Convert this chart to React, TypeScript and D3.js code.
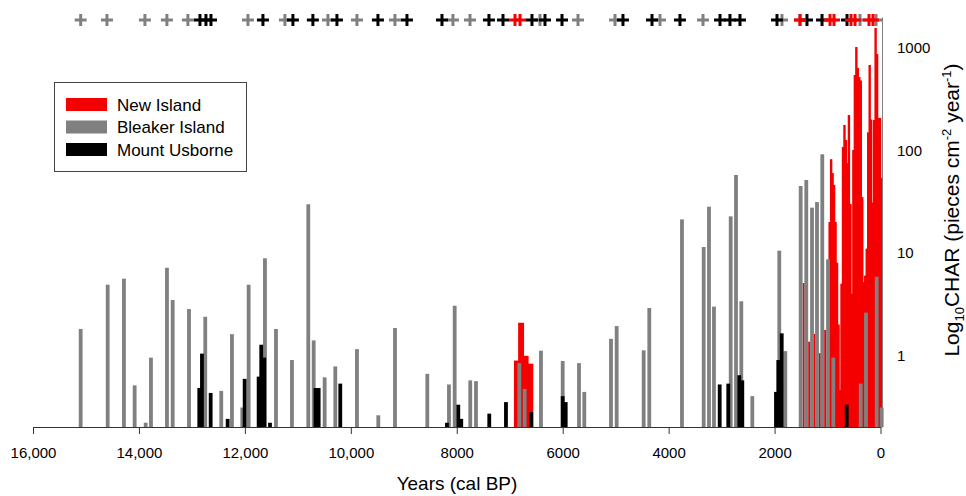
import React, { useEffect, useRef } from "react";
import * as d3 from "d3";

// Bleaker Island charcoal peaks (age cal BP, CHAR)
const bleakerAge = [
  15100, 14590, 14283, 14081, 13873, 13773, 13471, 13363, 13055, 12748, 12446,
  12244, 12049, 11929, 11621, 11413, 11111, 10803, 10701, 10494, 10293, 9884,
  9481, 9166, 8556, 8147, 8039, 7745, 7637, 6819, 6718, 6410, 6000, 5692, 5592,
  5088, 4981, 4471, 4365, 3748, 3338, 3238, 3144, 2828, 2728, 2628, 2420, 1911,
  1797, 1507, 1401, 1293, 1199, 1099, 991, 891, 374, 274, 72, -23,
];
const bleakerChar = [
  1.81, 4.89, 5.6, 0.51, 0.22, 0.95, 7.16, 3.47, 2.83, 2.38, 0.45, 1.61, 0.31,
  4.89, 8.85, 1.81, 0.9, 29.8, 1.4, 0.61, 0.78, 1.15, 0.26, 1.85, 0.66, 0.52,
  3.05, 0.57, 0.56, 0.84, 0.47, 1.11, 0.88, 0.84, 0.44, 1.45, 1.93, 1.12, 2.9,
  21.2, 11.4, 28.2, 2.99, 22.7, 57.5, 3.37, 0.4, 10.5, 1.1, 44.9, 51.4, 27.6,
  31.3, 91.5, 8.65, 0.95, 0.53, 2.61, 5.85, 0.31,
];

// Mount Usborne
const usborneAge = [
  12861, 12810, 12646, 12325, 12004, 11740, 11691, 11634, 11526, 10667, 10607,
  10199, 8185, 7971, 7915, 7386, 7071, 6593, 6000, 5943, 3036, 2874, 2666, 2609,
  1973, 1930, 1865, 638,
];
const usborneChar = [
  0.48, 1.04, 0.43, 0.24, 0.59, 0.62, 1.27, 0.95, 0.22, 0.48, 0.48, 0.53, 0.22,
  0.33, 0.24, 0.27, 0.35, 0.28, 0.4, 0.35, 0.52, 0.53, 0.64, 0.57, 0.44, 0.9,
  1.64, 0.33,
];

// New Island: sample mid age, sample span (years), CHAR
const newIslandAge = [
  6875, 6788, 6698, 6611, 1454, 1350, 1250, 1148, 1048, 963, 935, 907, 879, 851,
  823, 795, 767, 739, 711, 683, 655, 627, 599, 571, 543, 515, 487, 459, 431, 403,
  375, 347, 319, 291, 263, 235, 207, 179, 151, 123, 95, 67, 39, 11, -17,
];
const newIslandSpan = [
  79, 95, 86, 89, 20, 20, 20, 20, 20, 28, 28, 28, 28, 28, 28, 28, 28, 28, 28, 28,
  28, 28, 28, 28, 28, 28, 28, 28, 28, 28, 28, 28, 28, 28, 28, 28, 28, 28, 28, 28,
  28, 28, 28, 28, 28,
];
const newIslandChar = [
  0.89, 2.08, 0.99, 0.83, 5.08, 1.36, 1.62, 1.05, 1.77, 20, 82, 60, 46, 20, 8, 2,
  0.46, 5, 108, 177, 126, 75, 221, 30, 4, 101, 543, 1019, 635, 520, 480, 35, 5.2,
  6, 11, 150, 681, 200, 31, 198, 1563, 871, 207, 207, 54,
];

// radiocarbon dates (cal BP)
const bleakerDates = [
  15100, 14604, 13887, 13472, 13076, 11942, 11244, 10432, 9884, 9167, 8072, 7750,
  6429, 5711, 5012, 4163, 3351, 1860, 1520, 387, 85,
];
const usborneDates = [
  12848, 12735, 12640, 11659, 11093, 10716, 10262, 9488, 8940, 8279, 7392, 7127,
  6580, 6334, 6013, 4862, 4314, 3786, 3030, 2842, 2653, 1954, 1388, 1104, 632,
];
const newIslandDates = [6900, 6806, 1520, 953, 878, 557, 481, 217, 142];

const xTicks = [16000, 14000, 12000, 10000, 8000, 6000, 4000, 2000, 0];
const yTicks = [1, 10, 100, 1000];

const legendItems = [
  { label: "New Island", color: "#f50000" },
  { label: "Bleaker Island", color: "#808080" },
  { label: "Mount Usborne", color: "#000000" },
];

const FONT = "'Liberation Sans', Arial, sans-serif";

export default function App() {
  const ref = useRef<SVGSVGElement>(null);

  useEffect(() => {
    const svg = d3.select(ref.current);
    svg.selectAll("*").remove();

    const x = d3.scaleLinear().domain([16000, 0]).range([33, 880.5]);
    const y = d3.scaleLog().domain([0.2, 2000]).range([427, 17]);
    const base = y(0.2);

    // New Island (drawn first, beneath the others)
    svg
      .append("g")
      .selectAll("rect")
      .data(newIslandAge.map((a, i) => ({ a, s: newIslandSpan[i], v: newIslandChar[i] })))
      .enter()
      .append("rect")
      .attr("x", (d) => x(d.a + d.s / 2) - 0.3)
      .attr("width", (d) => Math.max(1, x(d.a - d.s / 2) - x(d.a + d.s / 2)) + 0.9)
      .attr("y", (d) => y(d.v))
      .attr("height", (d) => base - y(d.v))
      .attr("fill", "#f50000");

    // Bleaker Island
    const bw = 3.8;
    svg
      .append("g")
      .selectAll("rect")
      .data(bleakerAge.map((a, i) => ({ a, v: bleakerChar[i] })))
      .enter()
      .append("rect")
      .attr("x", (d) => x(d.a) - bw / 2)
      .attr("width", bw)
      .attr("y", (d) => y(d.v))
      .attr("height", (d) => base - y(d.v))
      .attr("fill", "#808080");

    // Mount Usborne
    svg
      .append("g")
      .selectAll("rect")
      .data(usborneAge.map((a, i) => ({ a, v: usborneChar[i] })))
      .enter()
      .append("rect")
      .attr("x", (d) => x(d.a) - bw / 2)
      .attr("width", bw)
      .attr("y", (d) => y(d.v))
      .attr("height", (d) => base - y(d.v))
      .attr("fill", "#000000");

    // date markers along the top
    const plus = "M-6,0H6M0,-6V6";
    const markers: [number[], string][] = [
      [bleakerDates, "#808080"],
      [usborneDates, "#000000"],
      [newIslandDates, "#f50000"],
    ];
    markers.forEach(([dates, color]) => {
      svg
        .append("g")
        .selectAll("path")
        .data(dates)
        .enter()
        .append("path")
        .attr("d", plus)
        .attr("transform", (d) => `translate(${x(d)},20)`)
        .attr("stroke", color)
        .attr("stroke-width", 3)
        .attr("fill", "none");
    });

    // x axis
    const xAxis = svg
      .append("g")
      .attr("transform", `translate(0,${base})`)
      .call(
        d3
          .axisBottom(x)
          .tickValues(xTicks)
          .tickSize(7)
          .tickSizeOuter(0)
          .tickPadding(13)
          .tickFormat((d) => ((d as number) >= 10000 ? d3.format(",")(d as number) : String(d)))
      );
    xAxis.selectAll("path,line").attr("stroke", "#333");
    xAxis.selectAll("text").attr("font-size", 15).attr("font-family", FONT).attr("fill", "#000");

    // y axis on the right
    const yAxis = svg
      .append("g")
      .attr("transform", "translate(882,0)")
      .call(
        d3
          .axisRight(y)
          .tickValues(yTicks)
          .tickSize(0)
          .tickSizeOuter(0)
          .tickPadding(15)
          .tickFormat((d) => String(d))
      );
    yAxis.select(".domain").attr("stroke", "#808080");
    yAxis.selectAll("text").attr("font-size", 15).attr("font-family", FONT).attr("fill", "#000");

    // axis titles
    svg
      .append("text")
      .attr("x", 457)
      .attr("y", 490)
      .attr("text-anchor", "middle")
      .attr("font-family", FONT)
      .attr("font-size", 19)
      .text("Years (cal BP)");

    const yl = svg
      .append("text")
      .attr("transform", "translate(959,210) rotate(-90)")
      .attr("text-anchor", "middle")
      .attr("font-family", FONT)
      .attr("font-size", 21);
    yl.append("tspan").text("Log");
    yl.append("tspan").attr("font-size", 13).attr("dy", 5).text("10");
    yl.append("tspan").attr("dy", -5).text("CHAR (pieces cm");
    yl.append("tspan").attr("font-size", 13).attr("dy", -8).text("-2");
    yl.append("tspan").attr("dy", 8).text(" year");
    yl.append("tspan").attr("font-size", 13).attr("dy", -8).text("-1");
    yl.append("tspan").attr("dy", 8).text(")");

    // legend
    const lg = svg.append("g");
    lg.append("rect")
      .attr("x", 54.5)
      .attr("y", 82.5)
      .attr("width", 192)
      .attr("height", 89)
      .attr("fill", "#fff")
      .attr("stroke", "#444");
    legendItems.forEach((item, i) => {
      lg.append("rect")
        .attr("x", 66)
        .attr("y", 98 + i * 22.5)
        .attr("width", 41)
        .attr("height", 13)
        .attr("fill", item.color);
      lg.append("text")
        .attr("x", 117)
        .attr("y", 110.5 + i * 22.5)
        .attr("font-family", FONT)
        .attr("font-size", 17)
        .text(item.label);
    });
  }, []);

  return (
    <svg
      ref={ref}
      width={966}
      height={496}
      style={{ position: "absolute", left: 0, top: 0, background: "#fff" }}
    />
  );
}
